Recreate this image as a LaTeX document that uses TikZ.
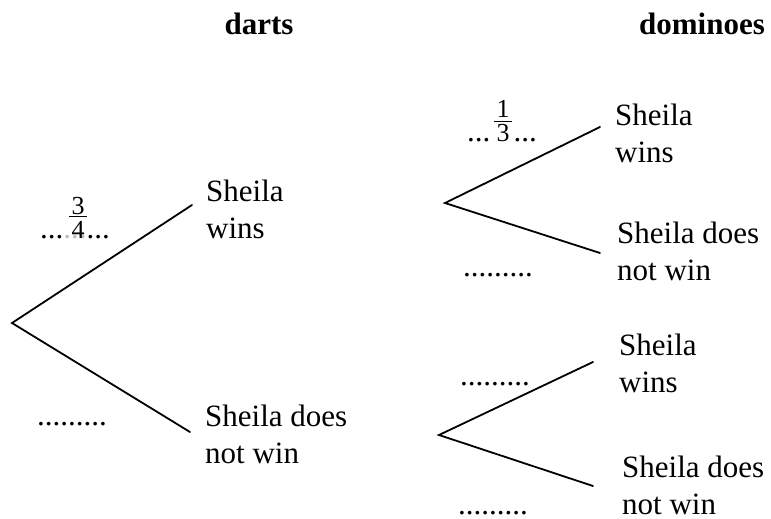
\documentclass[tikz,border=0pt]{standalone}
\usepackage{fontspec}
\setmainfont{Liberation Serif}
\usetikzlibrary{calc}
\tikzset{
  lbl/.style={anchor=base west, inner sep=0pt, align=left, font=\fontsize{31}{37}\selectfont},
  ttl/.style={anchor=base, inner sep=0pt, font=\fontsize{31}{37}\selectfont\bfseries},
  frc/.style={anchor=base, inner sep=0pt, font=\fontsize{26}{26}\selectfont},
  fracbar/.style={line width=0.7pt},
  branch/.style={line width=1.8pt, line cap=round}
}
\begin{document}
\begin{tikzpicture}[x=1pt,y=-1pt]
\useasboundingbox (0,0) rectangle (771,519);
% titles
\node[ttl] (tdarts) at (259,35) {darts};
\node[ttl] (tdom) at (702,35) {dominoes};
% left tree
\coordinate (r1) at (12,323);
\coordinate (e1a) at (192,205);
\coordinate (e1b) at (190,432);
\draw[branch] (e1a) -- (r1) -- (e1b);
\node[lbl] (w1) at (206,238) {Sheila\\wins};
\node[lbl] (n1) at (205,463) {Sheila does\\not win};
\node[lbl] (d1a) at (40,238) {...{\color{black!25}...}...};
\node[frc] (f1d) at (78,238) {4};
\node[frc] (f1n) at (78,214) {3};
\draw[fracbar] ($(f1d.north west)+(-2,-4)$) -- ($(f1d.north east)+(2,-4)$);
\node[lbl] (d1b) at (37,425) {.........};
% top right tree
\coordinate (r2) at (445,203);
\coordinate (e2a) at (600,127);
\coordinate (e2b) at (600,253);
\draw[branch] (e2a) -- (r2) -- (e2b);
\node[lbl] (w2) at (615,162) {Sheila\\wins};
\node[lbl] (n2) at (617,280) {Sheila does\\not win};
\node[lbl] (d2a) at (467,141.7) {...\phantom{...}...};
\node[frc] (f2d) at (503,141.7) {3};
\node[frc] (f2n) at (503,117.7) {1};
\draw[fracbar] ($(f2d.north west)+(-2,-3)$) -- ($(f2d.north east)+(2,-3)$);
\node[lbl] (d2b) at (463,276) {.........};
% bottom right tree
\coordinate (r3) at (439,435);
\coordinate (e3a) at (593,362);
\coordinate (e3b) at (593,486);
\draw[branch] (e3a) -- (r3) -- (e3b);
\node[lbl] (w3) at (619,392) {Sheila\\wins};
\node[lbl, text depth=0pt] (n3) at (622,514) {Sheila does\\not win};
\node[lbl] (d3a) at (460,385) {.........};
\node[lbl, text depth=0pt] (d3b) at (458,514) {.........};
\end{tikzpicture}
\end{document}
